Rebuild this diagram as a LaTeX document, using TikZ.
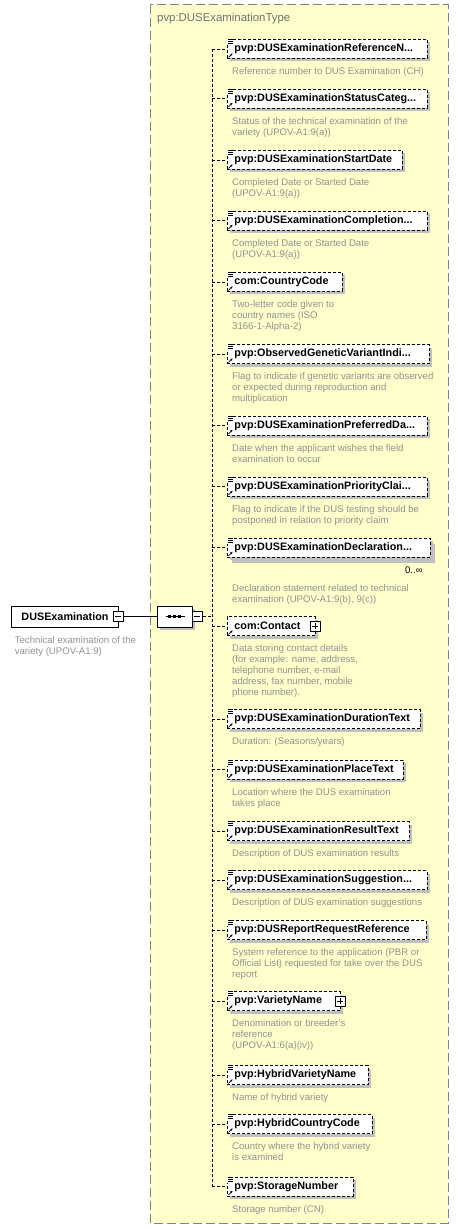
\documentclass[tikz,border=0pt]{standalone}
\usepackage{fontspec}
\setmainfont{Liberation Sans}
\usetikzlibrary{positioning,shadows,shapes.misc,arrows.meta}
\definecolor{typefill}{RGB}{255,255,204}
\definecolor{typeline}{RGB}{128,128,128}
\definecolor{titlegray}{RGB}{112,112,112}
\definecolor{descgray}{RGB}{145,145,145}
\definecolor{shadegray}{RGB}{192,192,192}
\newcommand\elide{...}
\tikzset{
  elem/.style={draw, dash pattern=on 3pt off 2pt, line width=0.8pt, fill=white, anchor=west,
    minimum height=19pt, inner xsep=7pt, inner ysep=0pt,
    font=\fontsize{10.8}{12}\selectfont\bfseries,
    drop shadow={shadow xshift=3pt, shadow yshift=-3pt, fill=shadegray, opacity=1}},
  plainel/.style={},
  manyel/.style={drop shadow={shadow xshift=5pt, shadow yshift=-6pt, fill=shadegray, opacity=1}},
  desc/.style={inner sep=0pt, align=left, text=descgray, font=\fontsize{9.6}{11}\selectfont},
  link/.style={dash pattern=on 3pt off 2pt, line width=0.8pt},
  pmbox/.style={draw, solid, line width=0.8pt, fill=white, minimum size=10pt, inner sep=0pt},
  rootbox/.style={draw, line width=0.8pt, fill=white, minimum width=106.5pt, minimum height=21pt,
    font=\fontsize{10.8}{12}\selectfont\bfseries},
  seqbox/.style={draw, line width=0.8pt, fill=white, chamfered rectangle,
    chamfered rectangle xsep=5pt, chamfered rectangle ysep=6pt,
    minimum width=35pt, minimum height=21pt, inner sep=0pt,
    drop shadow={shadow xshift=3pt, shadow yshift=-3pt, fill=shadegray, opacity=1}},
}
\begin{document}
\begin{tikzpicture}[x=1pt, y=-1pt, line join=round]
  \useasboundingbox (0,0) rectangle (459,1230);
  % complex type frame
  \draw[typeline, fill=typefill, line width=1pt, dash pattern=on 9pt off 4pt] (150,5) rectangle (448,1223);
  \node[anchor=west, inner sep=0pt, text=titlegray, font=\fontsize{11.4}{13}\selectfont] (typename) at (157,19) {pvp:DUSExaminationType};
  % root element
  \node[rootbox] (root) at (65,616.5) {DUSExamination};
  \node[pmbox] (rootm) at (root.east) {};
  \draw[line width=0.8pt] (rootm.west) ++(2,0) -- ++(6,0);
  \node[desc, below right=8.6pt and 3.3pt of root.south west] (rootd) {Technical examination of the\\variety (UPOV-A1:9)};
  % sequence
  \node[seqbox] (seq) at (174.5,616.5) {};
  \draw[line width=0.8pt] (seq.center) ++(-9,0) -- ++(19,0);
  \foreach \dx in {-5,0,5}
    \fill (seq.center) ++(\dx,0) ++(-1.5,-1.5) rectangle ++(3,3);
  \node[pmbox, anchor=west] (seqm) at (seq.east) {};
  \draw[line width=0.8pt] (seqm.west) ++(2,0) -- ++(6,0);
  \draw[line width=0.8pt] (rootm.east) -- (seq.west);
  % children
  \foreach \i/\y/\w/\kind/\name/\desc in {
    1/49/200/plainel/pvp:DUSExaminationReferenceN\elide/{Reference number to DUS Examination (CH)},
    2/98.5/200/plainel/pvp:DUSExaminationStatusCateg\elide/{Status of the technical examination of the\\variety (UPOV-A1:9(a))},
    3/160/175/plainel/pvp:DUSExaminationStartDate/{Completed Date or Started Date\\(UPOV-A1:9(a))},
    4/220.5/200/plainel/pvp:DUSExaminationCompletion\elide/{Completed Date or Started Date\\(UPOV-A1:9(a))},
    5/282/115/plainel/com:CountryCode/{Two-letter code given to\\country names (ISO\\3166-1-Alpha-2)},
    6/354/202/plainel/pvp:ObservedGeneticVariantIndi\elide/{Flag to indicate if genetic variants are observed\\or expected during reproduction and\\multiplication},
    7/425.5/200/plainel/pvp:DUSExaminationPreferredDa\elide/{Date when the applicant wishes the field\\examination to occur},
    8/486.5/200/plainel/pvp:DUSExaminationPriorityClai\elide/{Flag to indicate if the DUS testing should be\\postponed in relation to priority claim},
    9/547.5/203/manyel/pvp:DUSExaminationDeclaration\elide/{Declaration statement related to technical\\examination (UPOV-A1:9(b), 9(c))},
    10/626/88/plainel/com:Contact/{Data storing contact details\\(for example: name, address,\\telephone number, e-mail\\address, fax number, mobile\\phone number).},
    11/719/193/plainel/pvp:DUSExaminationDurationText/{Duration: (Seasons/years)},
    12/769.5/176/plainel/pvp:DUSExaminationPlaceText/{Location where the DUS examination\\takes place},
    13/831/182/plainel/pvp:DUSExaminationResultText/{Description of DUS examination results},
    14/880/200/plainel/pvp:DUSExaminationSuggestion\elide/{Description of DUS examination suggestions},
    15/930/199/plainel/pvp:DUSReportRequestReference/{System reference to the application (PBR or\\Official List) requested for take over the DUS\\report},
    16/1001/113/plainel/pvp:VarietyName/{Denomination or breeder's\\reference\\(UPOV-A1:6(a)(iv))},
    17/1075/141/plainel/pvp:HybridVarietyName/{Name of hybrid variety},
    18/1124/145/plainel/pvp:HybridCountryCode/{Country where the hybrid variety\\is examined},
    19/1186.5/126/plainel/pvp:StorageNumber/{Storage number (CN)}}{
    \pgfmathsetmacro\tw{\w-14}
    \pgfmathsetmacro\gap{\i==9 ? 27 : 8.5}
    \node[elem, \kind] (e\i) at (227,\y) {\makebox[\tw pt][l]{\name}};
    \ifnum\i=10\relax\else
      \fill[white] (e\i.north west) rectangle ++(6,6);
      \draw[line width=0.6pt] (e\i.north west) ++(1,0.5) -- ++(4.5,0) ++(-4.5,2) -- ++(4.5,0) ++(-4.5,2) -- ++(4.5,0);
    \fi
    \draw[-{Stealth[length=2.5pt,width=2.5pt]}, line width=0.8pt] (e\i.south west) ++(1.5,-1.5) -- ++(4,-4);
    \node[desc, below right=\gap pt and 5pt of e\i.south west] (d\i) {\desc};
  }
  % occurrence of the declaration element
  \node[inner sep=0pt, font=\fontsize{9.6}{11}\selectfont, below left=9pt and 8pt of e9.south east] (occ9) {0..∞};
  % expand boxes
  \foreach \j in {10,16}{
    \node[pmbox] (p\j) at (e\j.east) {};
    \draw[line width=0.8pt] (p\j.west) ++(2,0) -- ++(6,0) (p\j.north) ++(0,2) -- ++(0,6);
  }
  % connectors
  \coordinate (bus) at (212,616.5);
  \draw[link] (seqm.east) -- (bus);
  \draw[link] (bus |- e1.west) -- (bus |- e19.west);
  \foreach \i in {1,...,19}
    \draw[link] (bus |- e\i.west) -- (e\i.west);
\end{tikzpicture}
\end{document}
